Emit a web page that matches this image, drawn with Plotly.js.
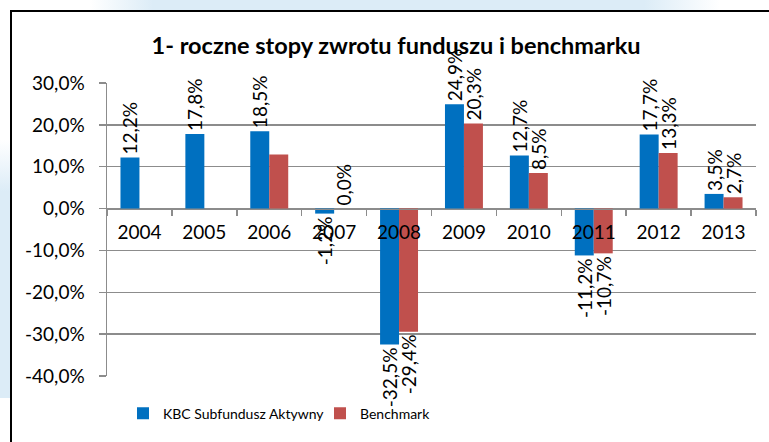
<!DOCTYPE html>
<html>
<head>
<meta charset="utf-8">
<script src="https://cdn.plot.ly/plotly-3.0.1.min.js"></script>
<style>
  html, body { margin:0; padding:0; background:#ffffff; }
  #wrap { position:relative; width:769px; height:442px; overflow:hidden; background:#fff; }
  #topStrip { position:absolute; left:90px; top:0; width:630px; height:11px;
    background: linear-gradient(to right, rgba(220,236,247,0) 0%, #dcecf7 10%, #dcecf7 88%, rgba(220,236,247,0) 100%); }
  #leftStrip { position:absolute; left:0; top:140px; width:11px; height:258px;
    background: linear-gradient(to bottom, rgba(220,236,247,0) 0%, #dcecf7 20%, #dcecf7 100%); }
  #frame { position:absolute; left:10px; top:10px; width:800px; height:500px;
    border-left:2px solid #000; border-top:2px solid #000; background:#fff; }
  #chart { position:absolute; left:0; top:0; width:769px; height:442px; }
</style>
</head>
<body>
<div id="wrap">
  <div id="topStrip"></div>
  <div id="leftStrip"></div>
  <div id="frame"></div>
  <div id="chart"></div>
</div>
<script>
// ---- data ----
const years = ['2004','2005','2006','2007','2008','2009','2010','2011','2012','2013'];
const kbcValues = [12.2, 17.8, 18.5, -1.2, -32.5, 24.9, 12.7, -11.2, 17.7, 3.5];
const benchValues = [null, null, 12.9, 0.0, -29.4, 20.3, 8.5, -10.7, 13.3, 2.7];
const benchLabelShown = [false, false, false, true, true, true, true, true, true, true];
const yTickVals = [30, 20, 10, 0, -10, -20, -30, -40];
const yTickText = ['30,0%', '20,0%', '10,0%', '0,0%', '-10,0%', '-20,0%', '-30,0%', '-40,0%'];
const seriesNames = ['KBC Subfundusz Aktywny', 'Benchmark'];
const titleText = '1- roczne stopy zwrotu funduszu i benchmarku';

function fmt(v) { return (v === null) ? '' : v.toFixed(1).replace('.', ',') + '%'; }

const FONT = 'Lato, "Open Sans", sans-serif';
const labelFont = { family: FONT, size: 19, color: '#000' };

const traces = [
  {
    type: 'bar', name: seriesNames[0], x: years, y: kbcValues,
    text: kbcValues.map(fmt), textposition: 'outside', textangle: -90,
    textfont: labelFont, constraintext: 'none', cliponaxis: false,
    marker: { color: '#0070C0', line: { width: 0 } }, hoverinfo: 'x+y'
  },
  {
    type: 'bar', name: seriesNames[1], x: years, y: benchValues,
    text: benchValues.map((v, i) => benchLabelShown[i] ? fmt(v) : ''), textposition: 'outside', textangle: -90,
    textfont: labelFont, constraintext: 'none', cliponaxis: false,
    marker: { color: '#C0504D', line: { width: 0 } }, hoverinfo: 'x+y'
  }
];

const layout = {
  width: 769, height: 442,
  margin: { l: 107, r: 13, t: 83, b: 64, pad: 0 },
  paper_bgcolor: 'rgba(0,0,0,0)', plot_bgcolor: 'rgba(0,0,0,0)',
  font: { family: FONT, color: '#000' },
  title: { text: '<b>' + titleText + '</b>', font: { family: FONT, size: 23.5, color: '#000' },
           x: 0.515, xref: 'container', xanchor: 'center', y: 1 - 46/442, yref: 'container', yanchor: 'middle' },
  barmode: 'group', bargap: 0.415, bargroupgap: 0,
  xaxis: {
    type: 'category', anchor: 'free', position: 40/70,
    showline: true, linecolor: '#8c8c8c', linewidth: 1.5,
    showgrid: false, ticks: 'outside', tickson: 'boundaries', ticklen: 6, tickcolor: '#8c8c8c', tickwidth: 1.5,
    tickfont: { family: FONT, size: 19, color: '#000' }, ticklabelstandoff: 6,
    fixedrange: true
  },
  yaxis: {
    range: [-40, 30], tickvals: yTickVals, ticktext: yTickText,
    showline: true, linecolor: '#8c8c8c', linewidth: 1.5,
    showgrid: true, gridcolor: '#8c8c8c', gridwidth: 1.5, zeroline: false,
    ticks: 'outside', ticklen: 7, tickcolor: '#8c8c8c', tickwidth: 1.5,
    tickfont: { family: FONT, size: 19, color: '#000' }, ticklabelstandoff: 10,
    fixedrange: true
  },
  showlegend: true,
  legend: { orientation: 'h', x: (123-107)/649, xanchor: 'left', y: (378-416)/295, yanchor: 'middle',
            entrywidth: 152, entrywidthmode: 'pixels',
            font: { family: FONT, size: 14, color: '#000' }, bgcolor: 'rgba(0,0,0,0)' }
};

Plotly.newPlot('chart', traces, layout, { displayModeBar: false, staticPlot: true });
</script>
</body>
</html>
